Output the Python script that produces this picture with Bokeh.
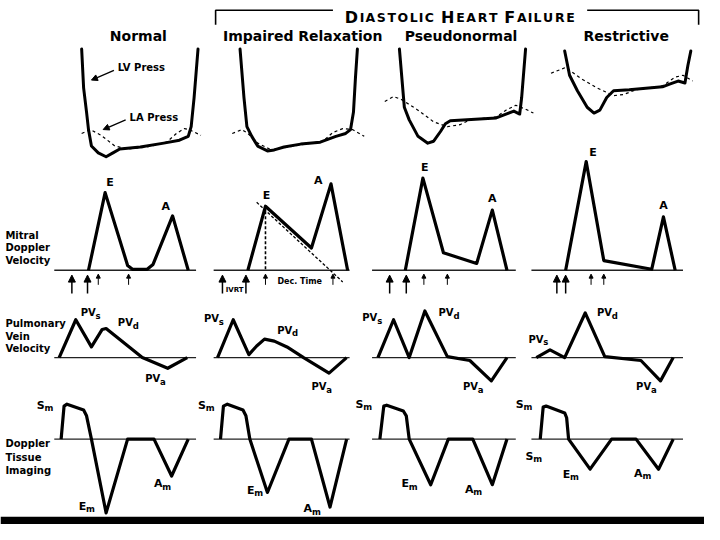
from bokeh.plotting import figure
from bokeh.models import Range1d, Arrow, NormalHead, ColumnDataSource, BoxAnnotation
from bokeh.embed import file_html
from bokeh.resources import INLINE
from bokeh.core.properties import value

# ---------------- data (time t, amplitude v; per column) ----------------
columns = ["Normal", "Impaired Relaxation", "Pseudonormal", "Restrictive"]
header_text = "DIASTOLIC HEART FAILURE"
row_labels_mitral = ["Mitral", "Doppler", "Velocity"]
row_labels_pv = ["Pulmonary", "Vein", "Velocity"]
row_labels_dti = ["Doppler", "Tissue", "Imaging"]

# LV pressure (solid)
lv_t = [[28, 30, 33, 35, 38, 45, 53, 60, 67, 88, 112, 128, 137, 140, 143, 147],
        [27, 31, 34, 39, 45, 55, 62, 72, 89, 109, 125, 135, 140, 143, 145, 147],
        [28, 33, 38, 47, 57, 63, 70, 75, 80, 127, 137, 145, 151, 153, 157],
        [34, 39, 47, 57, 64, 70, 77, 84, 100, 134, 142, 150, 157, 160, 163]]
lv_v = [[120, 80, 55, 37, 20, 13, 9, 13, 17, 19, 23, 26, 30, 40, 70, 120],
        [120, 70, 40, 30, 20, 15, 16, 19, 22, 24, 30, 33, 37, 55, 90, 120],
        [120, 60, 47, 30, 23, 25, 35, 43, 46, 49, 53, 56, 53, 70, 120],
        [118, 93, 77, 60, 54, 57, 70, 77, 78, 81, 84, 87, 85, 103, 118]]
# LA pressure (dashed)
la_t = [[28, 37, 48, 62, 75, 95, 115, 125, 133, 138, 150],
        [19, 29, 35, 45, 59, 82, 112, 122, 132, 142, 154],
        [13, 22, 30, 47, 63, 77, 90, 100, 127, 137, 147, 157, 165],
        [20, 35, 50, 67, 84, 94, 107, 134, 147, 155, 165]]
la_v = [[33, 37, 31, 20, 17, 19, 24, 33, 38, 37, 31],
        [33, 37, 33, 23, 16, 20, 25, 34, 38, 37, 30],
        [66, 71, 68, 57, 45, 40, 42, 47, 50, 57, 62, 58, 54],
        [95, 101, 90, 80, 72, 73, 78, 82, 91, 93, 87]]
# Mitral Doppler velocity
mit_t = [[35, 52, 75, 80, 95, 101, 121, 137],
         [35, 53, 100, 120, 137],
         [34, 52, 73, 107, 123, 138],
         [35, 56, 74, 123, 135, 147]]
mit_v = [[0, 80, 5, 1, 1, 6, 56, 0],
         [0, 66, 23, 89, 0],
         [0, 95, 18, 7, 62, 0],
         [0, 112, 10, 1, 55, 0]]
# deceleration-time extrapolation (impaired relaxation)
dec_t = [44, 132]
dec_v = [70, -12]
# timing markers
big_marks = [[18, 34], [9, 33], [18, 35], [26, 35]]
small_marks = [[45, 76], [53, 122], [53, 77], [61, 74]]
# Pulmonary vein velocity
pv_t = [[5, 22, 38, 49, 53, 90, 116, 136],
        [4, 20, 36, 44, 52, 62, 75, 92, 118, 136],
        [6, 22, 38, 54, 77, 100, 122, 138],
        [5, 19, 34, 55, 75, 112, 132, 145]]
pv_v = [[0, 39, 11, 29, 30, 0, -11, 0],
        [0, 39, 3, 12, 19, 17, 11, 0, -16, 0],
        [0, 39, 0, 48, 1, -3, -24, 0],
        [0, 8, 0, 46, 1, -3, -24, 0]]
# Doppler tissue imaging
dti_t = [[7, 10, 13, 30, 33, 38, 53, 75, 102, 120, 137],
         [7, 10, 14, 30, 33, 37, 55, 77, 100, 119, 136],
         [8, 12, 15, 32, 35, 38, 60, 78, 103, 123, 138],
         [9, 12, 15, 34, 36, 38, 60, 82, 107, 130, 145]]
dti_v = [[0, 34, 36, 30, 24, 0, -76, 0, 0, -38, 0],
         [0, 34, 36, 30, 24, 0, -55, 0, 0, -70, 0],
         [0, 34, 35, 29, 24, 0, -47, 0, 0, -47, 0],
         [0, 33, 34, 27, 22, 0, -31, 0, 0, -31, 0]]

# ---------------- layout ----------------
col_x0 = [55, 218, 380, 543]
col_len = [145, 139, 147, 155]
row_base = {"press": 170, "mitral": 278, "pv": 368, "dti": 452}
title_cx = [141, 309, 471, 640]
FONT = value("DejaVu Sans")

p = figure(width=704, height=524, x_range=Range1d(0, 720), y_range=Range1d(540, 0),
           output_backend="svg", toolbar_location=None,
           x_axis_type=None, y_axis_type=None, min_border=0)
p.outline_line_color = None
p.background_fill_color = "white"
p.border_fill_color = "white"
p.add_layout(BoxAnnotation(top=532, bottom=540, left=0, right=720,
                           fill_color="black", fill_alpha=1, line_color=None))


def px(i, ts):
    return [col_x0[i] + t for t in ts]


def py(row, vs):
    return [row_base[row] - v for v in vs]


def txt(x, y, s, size, align="left", baseline="middle"):
    p.text(x=[x], y=[y], text=[s], text_font=FONT, text_font_style="bold",
           text_font_size=size, text_align=align, text_baseline=baseline,
           text_color="black")


# header bracket + small-caps title
p.line([220, 220, 340], [25, 10, 10], line_width=1.6, color="black")
p.line([600, 714, 714], [10, 10, 25], line_width=1.6, color="black")
adv = {"D": .830, "I": .372, "A": .774, "S": .720, "T": .682, "O": .850, "L": .637,
       "C": .734, "H": .837, "E": .683, "R": .770, "F": .683, "U": .812, " ": .348}
letters = []
prev = " "
for ch in header_text:
    big = prev == " " and ch != " "
    size = 16 if big else 12.5
    letters.append((ch, size, adv[ch] * size))
    prev = ch
total = sum(w for _, _, w in letters)
stretch = (588 - 351) / total
cum = 351
for ch, size, w in letters:
    if ch != " ":
        txt(cum + w * stretch / 2, 18, ch, f"{size}px", align="center", baseline="alphabetic")
    cum += w * stretch

for i, name in enumerate(columns):
    txt(title_cx[i], 37, name, "14px", align="center")

# row labels
for j, s in enumerate(row_labels_mitral):
    txt(5, 242 + 13 * j, s, "10px")
for j, s in enumerate(row_labels_pv):
    txt(5, 333 + 13 * j, s, "10px")
for j, s in enumerate(row_labels_dti):
    txt(5, 457 + 13.5 * j, s, "10px")

# pressure traces
for i in range(4):
    p.line(px(i, la_t[i]), py("press", la_v[i]), line_width=1.2, color="black", line_dash="3 3")
    p.line(px(i, lv_t[i]), py("press", lv_v[i]), line_width=3, color="black",
           line_join="round", line_cap="round")

txt(120, 69, "LV Press", "10px")
txt(132, 121, "LA Press", "10px")
ann = ColumnDataSource(dict(xs=[116, 128], ys=[72, 123], xe=[93, 105], ye=[82, 133]))
p.add_layout(Arrow(end=NormalHead(size=6, fill_color="black", line_color="black"),
                   x_start="xs", y_start="ys", x_end="xe", y_end="ye", source=ann,
                   line_width=1.3, line_color="black"))

# baselines + waveforms
for i in range(4):
    for row in ("mitral", "pv", "dti"):
        b = row_base[row]
        p.line([col_x0[i], col_x0[i] + col_len[i]], [b, b], line_width=1.3, color="#222222")
    p.line(px(i, mit_t[i]), py("mitral", mit_v[i]), line_width=3.2, color="black", line_join="round")
    p.line(px(i, pv_t[i]), py("pv", pv_v[i]), line_width=3.2, color="black", line_join="round")
    p.line(px(i, dti_t[i]), py("dti", dti_v[i]), line_width=3.2, color="black", line_join="round")

# deceleration time construction (impaired relaxation)
p.line(px(1, dec_t), py("mitral", dec_v), line_width=1.3, color="black", line_dash="3 2")
p.line(px(1, [mit_t[1][1], mit_t[1][1]]), py("mitral", [mit_v[1][1], 0]),
       line_width=1.6, color="black", line_dash="3 2")

# timing arrows
bx, sx = [], []
for i in range(4):
    bx += px(i, big_marks[i])
    sx += px(i, small_marks[i])
big_src = ColumnDataSource(dict(xs=bx, ys=[302] * len(bx), xe=bx, ye=[283] * len(bx)))
small_src = ColumnDataSource(dict(xs=sx, ys=[293] * len(sx), xe=sx, ye=[282] * len(sx)))
p.add_layout(Arrow(end=NormalHead(size=7, fill_color="black", line_color="black"),
                   x_start="xs", y_start="ys", x_end="xe", y_end="ye", source=big_src,
                   line_width=1.5, line_color="black"))
p.add_layout(Arrow(end=NormalHead(size=4, fill_color="black", line_color="black"),
                   x_start="xs", y_start="ys", x_end="xe", y_end="ye", source=small_src,
                   line_width=1, line_color="black"))
txt(239.5, 298, "IVRT", "7px", align="center")
txt(306, 290, "Dec. Time", "8px", align="center")

# mitral labels
E_pos = [(112, 188), (272, 201), (434, 172), (606, 157)]
A_pos = [(169, 212), (325, 185), (503, 204), (678, 211)]
for (ex, ey), (ax, ay) in zip(E_pos, A_pos):
    txt(ex, ey, "E", "11px", align="center")
    txt(ax, ay, "A", "11px", align="center")


def sub_label(x, y, main, sub, size, sub_size, main_w):
    txt(x, y, main, size)
    txt(x + main_w, y + 3, sub, sub_size)


PVs_pos = [(82, 322), (208, 328), (370, 327), (540, 349)]
PVd_pos = [(120, 332), (283, 340), (448, 322), (610, 322)]
PVa_pos = [(148, 390), (318, 398), (473, 398), (650, 398)]
for pos, s in ((PVs_pos, "s"), (PVd_pos, "d"), (PVa_pos, "a")):
    for x, y in pos:
        sub_label(x, y, "PV", s, "10px", "8.5px", 15.2)

Sm_pos = [(37, 417), (202, 417), (363, 416), (527, 416), (537, 470)]
Em_pos = [(80, 521), (252, 505), (410, 498), (575, 488)]
Am_pos = [(157, 498), (310, 524), (475, 504), (648, 487)]
for x, y in Sm_pos:
    sub_label(x, y, "S", "m", "11px", "8.5px", 7.9)
for x, y in Em_pos:
    sub_label(x, y, "E", "m", "11px", "8.5px", 7.5)
for x, y in Am_pos:
    sub_label(x, y, "A", "m", "11px", "8.5px", 8.5)

open("out.html", "w").write(file_html(p, INLINE))
